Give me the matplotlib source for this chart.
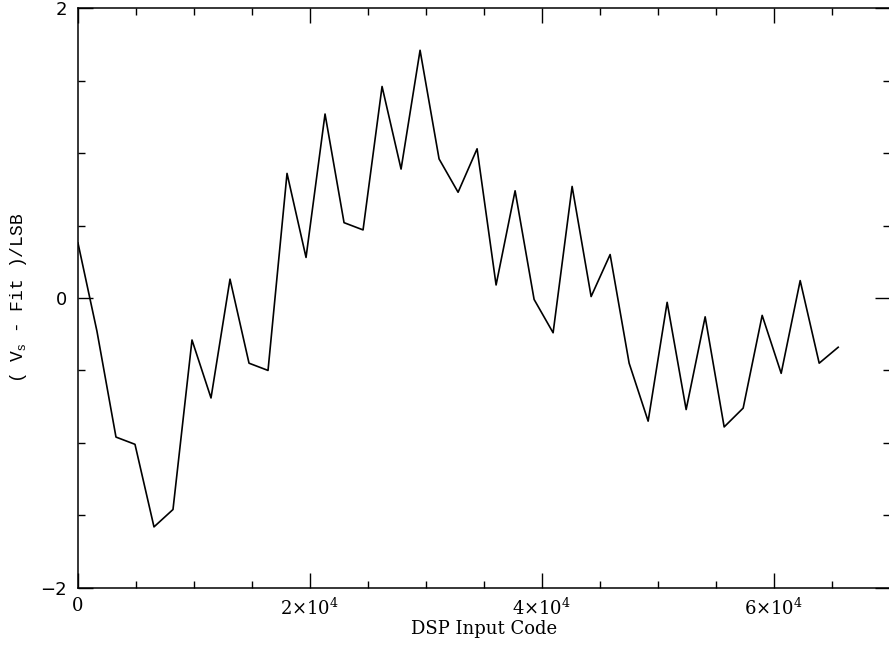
import matplotlib
matplotlib.use('Agg')
import numpy as np
import matplotlib.pyplot as plt
from matplotlib.ticker import MultipleLocator, FixedLocator, FixedFormatter

# residuals, one per 65536/40 codes
codes = np.arange(41) * 1638.4
resid = [0.38, -0.23, -0.96, -1.01, -1.58, -1.46, -0.29, -0.69, 0.13, -0.45,
         -0.50, 0.86, 0.28, 1.27, 0.52, 0.47, 1.46, 0.89, 1.71, 0.96,
         0.73, 1.03, 0.09, 0.74, -0.01, -0.24, 0.77, 0.01, 0.30, -0.45,
         -0.85, -0.03, -0.77, -0.13, -0.89, -0.76, -0.12, -0.52, 0.12, -0.45,
         -0.34]

xtick_vals = [0, 20000, 40000, 60000]
xtick_labels = ['0', r'$2{\times}10^{4}$', r'$4{\times}10^{4}$', r'$6{\times}10^{4}$']
ytick_vals = [-2, 0, 2]
ytick_labels = ['\u22122', '0', '2']

plt.rcParams['mathtext.fontset'] = 'dejavuserif'
plt.rcParams['font.family'] = 'DejaVu Serif'

fig = plt.figure(figsize=(8.89, 6.46), dpi=100)
ax = fig.add_axes([0.0877, 0.0902, 0.9134, 0.897])

ax.plot(codes, resid, color='black', linewidth=1.2)

ax.set_xlim(0, 70000)
ax.set_ylim(-2, 2)

ax.xaxis.set_major_locator(FixedLocator(xtick_vals))
ax.xaxis.set_major_formatter(FixedFormatter(xtick_labels))
ax.xaxis.set_minor_locator(MultipleLocator(5000))
ax.yaxis.set_major_locator(FixedLocator(ytick_vals))
ax.yaxis.set_major_formatter(FixedFormatter(ytick_labels))
ax.yaxis.set_minor_locator(MultipleLocator(0.5))

ax.tick_params(which='both', direction='in', top=True, right=True, width=1)
ax.tick_params(which='major', length=11)
ax.tick_params(which='minor', length=5)
ax.tick_params(axis='x', labelsize=13, pad=7)
ax.tick_params(axis='y', labelsize=13, pad=8)
for lab in ax.get_yticklabels():
    lab.set_family('DejaVu Sans')

for s in ax.spines.values():
    s.set_linewidth(1.1)
# the scan crops the right frame edge off
ax.spines['right'].set_visible(False)

ax.set_xlabel('DSP Input Code', fontsize=13, labelpad=1)
ax.set_ylabel(r'( V$_{\rm s}$ - Fit )/LSB', fontsize=13, family='Liberation Mono')
ax.yaxis.set_label_coords(-0.06, 0.5)

fig.savefig('out.png', dpi=100)
